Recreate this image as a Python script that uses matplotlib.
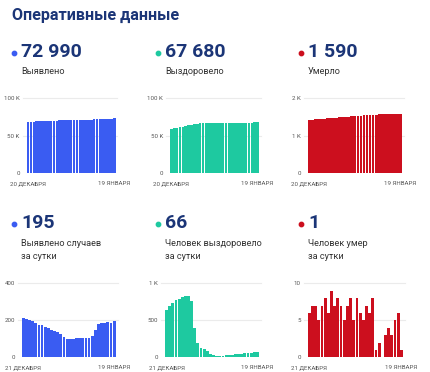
import matplotlib
matplotlib.use("Agg")
from matplotlib import pyplot as plt

plt.rcParams['font.family'] = ['Roboto', 'DejaVu Sans']

W, H = 430, 372

# cumulative, 20 Dec .. 19 Jan
cases_total = [68461, 68671, 68876, 69079, 69274, 69459, 69634, 69806, 69971, 70129, 70279,
               70422, 70557, 70682, 70790, 70887, 70984, 71084, 71189, 71292, 71395, 71498,
               71605, 71718, 71863, 72043, 72231, 72419, 72609, 72795, 72990]
recov_total = [59217, 59857, 60557, 61297, 62067, 62857, 63667, 64497, 65327, 66087, 66487,
               66687, 66817, 66927, 67007, 67057, 67087, 67107, 67127, 67147, 67172, 67202,
               67237, 67277, 67322, 67372, 67427, 67487, 67549, 67614, 67680]
death_total = [1423, 1429, 1436, 1443, 1448, 1455, 1463, 1469, 1478, 1485, 1493, 1500, 1505,
               1512, 1520, 1525, 1533, 1539, 1544, 1551, 1557, 1565, 1566, 1568, 1568, 1571,
               1575, 1578, 1583, 1589, 1590]

# daily, 21 Dec .. 19 Jan
cases_day = [210, 205, 203, 195, 185, 175, 172, 165, 158, 150, 143, 135, 125, 108, 97,
             97, 100, 105, 103, 103, 103, 107, 113, 145, 180, 188, 188, 190, 186, 195]
recov_day = [640, 700, 740, 770, 790, 810, 830, 830, 760, 400, 200, 130, 110, 80, 50,
             30, 20, 20, 20, 25, 30, 35, 40, 45, 50, 55, 60, 62, 65, 66]
death_day = [6, 7, 7, 5, 7, 8, 6, 9, 7, 8, 7, 5, 7, 8, 5,
             8, 6, 5, 7, 6, 8, 1, 2, 0, 3, 4, 3, 5, 6, 1]

top_numbers = ["72 990", "67 680", "1 590"]
top_labels = ["Выявлено", "Выздоровело", "Умерло"]
bot_numbers = ["195", "66", "1"]
bot_labels = ["Выявлено случаев\nза сутки", "Человек выздоровело\nза сутки", "Человек умер\nза сутки"]

top_dates = ["20 ДЕКАБРЯ", "19 ЯНВАРЯ"]
bot_dates = ["21 ДЕКАБРЯ", "19 ЯНВАРЯ"]

blue = "#3a5cf2"
teal = "#1ec9a0"
red = "#cc0f1e"
navy = "#1b3577"

fig = plt.figure(figsize=(W / 100, H / 100), dpi=100)
fig.patch.set_facecolor("white")

over = fig.add_axes([0, 0, 1, 1])
over.set_xlim(0, W)
over.set_ylim(H, 0)
over.axis("off")

over.text(12, 15, "Оперативные данные", fontsize=11.6, fontweight="bold",
          color=navy, va="center", ha="left")


def header(x, y, color, num, label):
    over.scatter([x - 7], [y + 1], s=10, color=color, zorder=3)
    over.text(x, y, num, fontsize=14, fontweight="bold", color=navy, va="center", ha="left")
    ly = y + 34 - 7 if "\n" in label else y + 20
    over.text(x, ly, label, fontsize=6.6, color="#333333",
              va="center", ha="left", linespacing=1.55)


def bars(left, right, top, bottom, values, color, ymax, ticks, ticklabels, dates):
    ax = fig.add_axes([left / W, 1 - bottom / H, (right - left) / W, (bottom - top) / H])
    n = len(values)
    ax.bar(range(n), values, width=0.9, color=color, zorder=2)
    ax.set_xlim(-0.5, n - 0.5)
    ax.set_ylim(0, ymax)
    for t in ticks[1:]:
        ax.axhline(t, xmin=-0.04, xmax=1.02, color="#ebebeb", lw=0.8, zorder=1, clip_on=False)
    ax.set_yticks(ticks)
    ax.set_yticklabels(ticklabels)
    ax.set_xticks([0, n - 1])
    ax.set_xticklabels(dates)
    for s in ax.spines.values():
        s.set_visible(False)
    ax.tick_params(length=0, labelsize=4.4, colors="#555555")
    ax.tick_params(axis="x", pad=5.5)
    ax.tick_params(axis="y", pad=5)
    ax.set_facecolor("none")
    return ax


xs = [21, 165, 308]
for x, c, num, lab in zip(xs, [blue, teal, red], top_numbers, top_labels):
    header(x, 52, c, num, lab)
for x, c, num, lab in zip(xs, [blue, teal, red], bot_numbers, bot_labels):
    header(x, 223, c, num, lab)

bars(26.7, 115.7, 98.3, 173, cases_total, blue, 100000, [0, 50000, 100000], ["0", "50 K", "100 K"], top_dates)
bars(170, 259, 98.3, 173, recov_total, teal, 100000, [0, 50000, 100000], ["0", "50 K", "100 K"], top_dates)
bars(307.7, 402, 98.3, 173, death_total, red, 2000, [0, 1000, 2000], ["0", "1 K", "2 K"], top_dates)

bars(21.7, 115.7, 283.3, 357.3, cases_day, blue, 400, [0, 200, 400], ["0", "200", "400"], bot_dates)
bars(165, 259, 283.3, 357.3, recov_day, teal, 1000, [0, 500, 1000], ["0", "500", "1 K"], bot_dates)
bars(307.7, 403, 283.3, 357.3, death_day, red, 10, [0, 5, 10], ["0", "5", "10"], bot_dates)

fig.savefig("out.png", dpi=100)
